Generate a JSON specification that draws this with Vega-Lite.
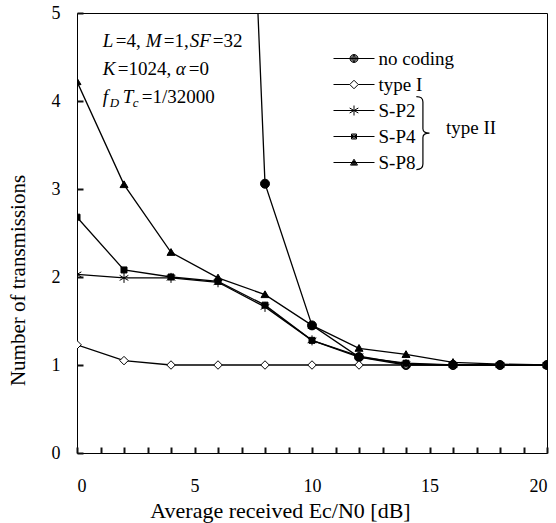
{
  "$schema": "https://vega.github.io/schema/vega-lite/v6.json",
  "width": 470,
  "height": 440,
  "autosize": {"type": "none"},
  "padding": {"left": 77, "top": 13, "right": 9, "bottom": 70},
  "background": "white",
  "config": {
    "view": {"stroke": "black", "strokeWidth": 1},
    "font": "Liberation Serif",
    "axis": {
      "grid": false,
      "domain": false,
      "ticks": true,
      "offset": -6,
      "zindex": 1,
      "labelColor": "black",
      "titleColor": "black",
      "labelFont": "Liberation Serif",
      "titleFont": "Liberation Serif",
      "labelFontSize": 18,
      "titleFontSize": 21,
      "titleFontWeight": "normal"
    },
    "legend": {
      "labelFont": "Liberation Serif",
      "labelFontSize": 19,
      "labelColor": "black"
    }
  },
  "data": {
    "values": [
      {"x": 6, "y": 16, "series": "no coding"},
      {"x": 8, "y": 3.06, "series": "no coding"},
      {"x": 10, "y": 1.45, "series": "no coding"},
      {"x": 12, "y": 1.09, "series": "no coding"},
      {"x": 14, "y": 1.0, "series": "no coding"},
      {"x": 16, "y": 1.0, "series": "no coding"},
      {"x": 18, "y": 1.0, "series": "no coding"},
      {"x": 20, "y": 1.0, "series": "no coding"},
      {"x": 0, "y": 1.23, "series": "type I"},
      {"x": 2, "y": 1.05, "series": "type I"},
      {"x": 4, "y": 1.0, "series": "type I"},
      {"x": 6, "y": 1.0, "series": "type I"},
      {"x": 8, "y": 1.0, "series": "type I"},
      {"x": 10, "y": 1.0, "series": "type I"},
      {"x": 12, "y": 1.0, "series": "type I"},
      {"x": 14, "y": 1.0, "series": "type I"},
      {"x": 16, "y": 1.0, "series": "type I"},
      {"x": 18, "y": 1.0, "series": "type I"},
      {"x": 20, "y": 1.0, "series": "type I"},
      {"x": 0, "y": 2.03, "series": "S-P2"},
      {"x": 2, "y": 1.99, "series": "S-P2"},
      {"x": 4, "y": 1.99, "series": "S-P2"},
      {"x": 6, "y": 1.94, "series": "S-P2"},
      {"x": 8, "y": 1.66, "series": "S-P2"},
      {"x": 10, "y": 1.28, "series": "S-P2"},
      {"x": 12, "y": 1.10, "series": "S-P2"},
      {"x": 14, "y": 1.01, "series": "S-P2"},
      {"x": 16, "y": 1.0, "series": "S-P2"},
      {"x": 18, "y": 1.0, "series": "S-P2"},
      {"x": 20, "y": 1.0, "series": "S-P2"},
      {"x": 0, "y": 2.68, "series": "S-P4"},
      {"x": 2, "y": 2.08, "series": "S-P4"},
      {"x": 4, "y": 2.0, "series": "S-P4"},
      {"x": 6, "y": 1.95, "series": "S-P4"},
      {"x": 8, "y": 1.68, "series": "S-P4"},
      {"x": 10, "y": 1.28, "series": "S-P4"},
      {"x": 12, "y": 1.09, "series": "S-P4"},
      {"x": 14, "y": 1.02, "series": "S-P4"},
      {"x": 16, "y": 1.0, "series": "S-P4"},
      {"x": 18, "y": 1.0, "series": "S-P4"},
      {"x": 20, "y": 1.0, "series": "S-P4"},
      {"x": 0, "y": 4.22, "series": "S-P8"},
      {"x": 2, "y": 3.05, "series": "S-P8"},
      {"x": 4, "y": 2.28, "series": "S-P8"},
      {"x": 6, "y": 1.99, "series": "S-P8"},
      {"x": 8, "y": 1.80, "series": "S-P8"},
      {"x": 10, "y": 1.45, "series": "S-P8"},
      {"x": 12, "y": 1.19, "series": "S-P8"},
      {"x": 14, "y": 1.12, "series": "S-P8"},
      {"x": 16, "y": 1.03, "series": "S-P8"},
      {"x": 18, "y": 1.01, "series": "S-P8"},
      {"x": 20, "y": 1.0, "series": "S-P8"}
    ]
  },
  "encoding": {
    "x": {
      "field": "x", "type": "quantitative",
      "scale": {"domain": [0, 20], "nice": false, "zero": false},
      "axis": {
        "title": "Average received Ec/N0 [dB]",
        "titleFontSize": 22,
        "values": [0,1,2,3,4,5,6,7,8,9,10,11,12,13,14,15,16,17,18,19,20],
        "labelExpr": "datum.value % 5 === 0 ? datum.label : ''",
        "labelPadding": 24,
        "labelOverlap": false,
        "ticks": true,
        "tickSize": 6,
        "tickWidth": 2,
        "tickColor": "#111111",
        "titleX": 203,
        "titleY": 70,
        "titleBaseline": "alphabetic",
        "titleAlign": "center"
      }
    },
    "y": {
      "field": "y", "type": "quantitative",
      "scale": {"domain": [0, 5], "nice": false, "zero": true},
      "axis": {
        "title": "Number of transmissions",
        "values": [0,1,2,3,4,5],
        "labelPadding": 17,
        "ticks": true,
        "tickSize": 6,
        "tickWidth": 2,
        "tickColor": "#111111",
        "titleX": -65,
        "titleY": 267,
        "titleAngle": -90,
        "titleBaseline": "middle",
        "titleAlign": "center"
      }
    }
  },
  "layer": [
    {
      "mark": {"type": "line", "color": "black", "strokeWidth": 1.3, "clip": true},
      "encoding": {"detail": {"field": "series"}, "order": {"field": "x"}}
    },
    {
      "mark": {"type": "point", "filled": true, "stroke": "black", "strokeWidth": 1, "size": 100, "clip": true, "opacity": 1},
      "encoding": {
        "shape": {
          "field": "series", "type": "nominal", "legend": null,
          "scale": {
            "domain": ["no coding", "type I", "S-P2", "S-P4", "S-P8"],
            "range": [
              "M0.9,0A0.9,0.9 0 1,1 -0.9,0A0.9,0.9 0 1,1 0.9,0Z",
              "M0,-0.85L0.85,0L0,0.85L-0.85,0Z",
              "M0,-1V1M-0.87,-0.5L0.87,0.5M-0.87,0.5L0.87,-0.5",
              "M-0.6,-0.6H0.6V0.6H-0.6Z",
              "M0,-0.75L0.8,0.6L-0.8,0.6Z"
            ]
          }
        },
        "fill": {
          "condition": {"test": "datum.series === 'type I'", "value": "white"},
          "value": "black"
        }
      }
    },
    {
      "transform": [{"filter": "datum.y > 5"}],
      "mark": {"type": "point", "filled": false, "color": "black", "stroke": "black", "strokeWidth": 1, "size": 100, "clip": true, "opacity": 1},
      "encoding": {
        "shape": {
          "field": "series", "type": "nominal",
          "scale": {
            "domain": ["no coding", "type I", "S-P2", "S-P4", "S-P8"],
            "range": [
              "M-4.1,0H4.1M0.8,0A0.8,0.8 0 1,1 -0.8,0A0.8,0.8 0 1,1 0.8,0M0.6,0A0.6,0.6 0 1,1 -0.6,0A0.6,0.6 0 1,1 0.6,0M0.4,0A0.4,0.4 0 1,1 -0.4,0A0.4,0.4 0 1,1 0.4,0M0.2,0A0.2,0.2 0 1,1 -0.2,0A0.2,0.2 0 1,1 0.2,0M0,-0.1V0.1",
              "M-4.1,0H-0.85M0.85,0H4.1M0,-0.85L0.85,0L0,0.85L-0.85,0Z",
              "M-4.1,0H4.1M0,-1V1M-0.87,-0.5L0.87,0.5M-0.87,0.5L0.87,-0.5",
              "M-4.1,0H4.1M-0.5,-0.5H0.5V0.5H-0.5ZM-0.3,-0.3H0.3V0.3H-0.3ZM-0.1,-0.1H0.1V0.1H-0.1Z",
              "M-4.1,0H4.1M0,-0.66L0.7,0.52L-0.7,0.52ZM0,-0.37L0.45,0.38L-0.45,0.38ZM0,-0.04L0.15,0.21L-0.15,0.21Z"
            ]
          },
          "legend": {
            "title": null,
            "orient": "none",
            "legendX": 267.5,
            "legendY": 36,
            "symbolSize": 100,
            "labelOffset": 15,
            "rowPadding": 6,
            "padding": 0,
            "symbolStrokeWidth": 1,
            "symbolStrokeColor": "black"
          }
        }
      }
    },
    {
      "transform": [{"filter": "datum.y > 5"}],
      "mark": {"type": "point", "shape": "M-0.18,-1Q0,-1 0,-0.85L0,-0.12Q0,0 0.18,0Q0,0 0,0.12L0,0.85Q0,1 -0.18,1", "filled": false, "stroke": "black", "strokeWidth": 1.2, "size": 5329, "opacity": 1},
      "encoding": {"x": {"datum": 14.72}, "y": {"datum": 3.636}}
    },
    {
      "transform": [{"filter": "datum.y > 5"}],
      "mark": {"type": "text", "text": "type II", "align": "left", "baseline": "alphabetic", "fontSize": 19, "font": "Liberation Serif", "color": "black"},
      "encoding": {"x": {"datum": 15.7}, "y": {"datum": 3.625}}
    },
    {
      "transform": [{"filter": "datum.y > 5"}],
      "mark": {"type": "text", "text": "L", "fontStyle": "italic", "dx": 0, "align": "left", "baseline": "alphabetic", "fontSize": 19, "font": "Liberation Serif", "color": "black"},
      "encoding": {"x": {"datum": 1.1}, "y": {"datum": 4.61}}
    },
    {
      "transform": [{"filter": "datum.y > 5"}],
      "mark": {"type": "text", "text": "=4,", "dx": 13, "align": "left", "baseline": "alphabetic", "fontSize": 19, "font": "Liberation Serif", "color": "black"},
      "encoding": {"x": {"datum": 1.1}, "y": {"datum": 4.61}}
    },
    {
      "transform": [{"filter": "datum.y > 5"}],
      "mark": {"type": "text", "text": "M", "fontStyle": "italic", "dx": 43, "align": "left", "baseline": "alphabetic", "fontSize": 19, "font": "Liberation Serif", "color": "black"},
      "encoding": {"x": {"datum": 1.1}, "y": {"datum": 4.61}}
    },
    {
      "transform": [{"filter": "datum.y > 5"}],
      "mark": {"type": "text", "text": "=1,", "dx": 61, "align": "left", "baseline": "alphabetic", "fontSize": 19, "font": "Liberation Serif", "color": "black"},
      "encoding": {"x": {"datum": 1.1}, "y": {"datum": 4.61}}
    },
    {
      "transform": [{"filter": "datum.y > 5"}],
      "mark": {"type": "text", "text": "SF", "fontStyle": "italic", "dx": 87, "align": "left", "baseline": "alphabetic", "fontSize": 19, "font": "Liberation Serif", "color": "black"},
      "encoding": {"x": {"datum": 1.1}, "y": {"datum": 4.61}}
    },
    {
      "transform": [{"filter": "datum.y > 5"}],
      "mark": {"type": "text", "text": "=32", "dx": 110, "align": "left", "baseline": "alphabetic", "fontSize": 19, "font": "Liberation Serif", "color": "black"},
      "encoding": {"x": {"datum": 1.1}, "y": {"datum": 4.61}}
    },
    {
      "transform": [{"filter": "datum.y > 5"}],
      "mark": {"type": "text", "text": "K", "fontStyle": "italic", "dx": 0, "align": "left", "baseline": "alphabetic", "fontSize": 19, "font": "Liberation Serif", "color": "black"},
      "encoding": {"x": {"datum": 1.1}, "y": {"datum": 4.295}}
    },
    {
      "transform": [{"filter": "datum.y > 5"}],
      "mark": {"type": "text", "text": "=1024,", "dx": 15, "align": "left", "baseline": "alphabetic", "fontSize": 19, "font": "Liberation Serif", "color": "black"},
      "encoding": {"x": {"datum": 1.1}, "y": {"datum": 4.295}}
    },
    {
      "transform": [{"filter": "datum.y > 5"}],
      "mark": {"type": "text", "text": "α", "fontStyle": "italic", "dx": 73, "align": "left", "baseline": "alphabetic", "fontSize": 19, "font": "Liberation Serif", "color": "black"},
      "encoding": {"x": {"datum": 1.1}, "y": {"datum": 4.295}}
    },
    {
      "transform": [{"filter": "datum.y > 5"}],
      "mark": {"type": "text", "text": "=0", "dx": 86, "align": "left", "baseline": "alphabetic", "fontSize": 19, "font": "Liberation Serif", "color": "black"},
      "encoding": {"x": {"datum": 1.1}, "y": {"datum": 4.295}}
    },
    {
      "transform": [{"filter": "datum.y > 5"}],
      "mark": {"type": "text", "text": "f", "fontStyle": "italic", "dx": 0, "align": "left", "baseline": "alphabetic", "fontSize": 19, "font": "Liberation Serif", "color": "black"},
      "encoding": {"x": {"datum": 1.1}, "y": {"datum": 3.98}}
    },
    {
      "transform": [{"filter": "datum.y > 5"}],
      "mark": {"type": "text", "text": "D", "fontStyle": "italic", "dx": 7, "dy": 4, "align": "left", "baseline": "alphabetic", "fontSize": 13, "font": "Liberation Serif", "color": "black"},
      "encoding": {"x": {"datum": 1.1}, "y": {"datum": 3.98}}
    },
    {
      "transform": [{"filter": "datum.y > 5"}],
      "mark": {"type": "text", "text": "T", "fontStyle": "italic", "dx": 20, "align": "left", "baseline": "alphabetic", "fontSize": 19, "font": "Liberation Serif", "color": "black"},
      "encoding": {"x": {"datum": 1.1}, "y": {"datum": 3.98}}
    },
    {
      "transform": [{"filter": "datum.y > 5"}],
      "mark": {"type": "text", "text": "c", "fontStyle": "italic", "dx": 30, "dy": 4, "align": "left", "baseline": "alphabetic", "fontSize": 13, "font": "Liberation Serif", "color": "black"},
      "encoding": {"x": {"datum": 1.1}, "y": {"datum": 3.98}}
    },
    {
      "transform": [{"filter": "datum.y > 5"}],
      "mark": {"type": "text", "text": "=1/32000", "dx": 39, "align": "left", "baseline": "alphabetic", "fontSize": 19, "font": "Liberation Serif", "color": "black"},
      "encoding": {"x": {"datum": 1.1}, "y": {"datum": 3.98}}
    }
  ],
  "resolve": {"scale": {"shape": "independent"}, "legend": {"shape": "independent"}}
}
